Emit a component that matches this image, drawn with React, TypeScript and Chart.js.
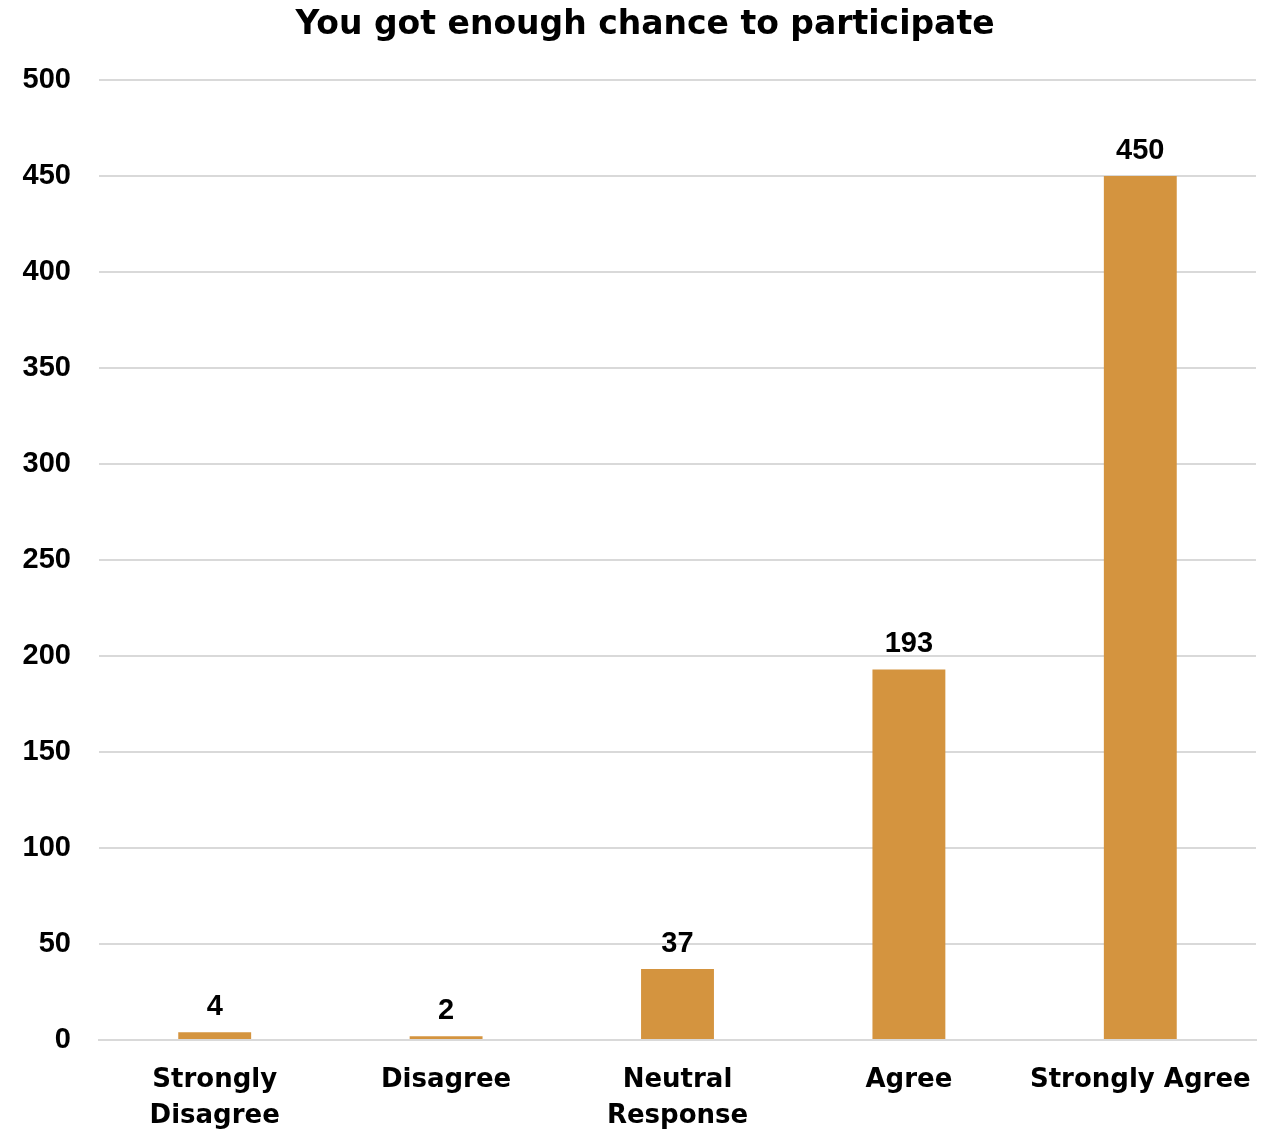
import React, { useEffect, useRef } from "react";
import { Chart, registerables } from "chart.js";

Chart.register(...registerables);

const TITLE = "You got enough chance to participate";
const categories: (string | string[])[] = [
  ["Strongly", "Disagree"],
  "Disagree",
  ["Neutral", "Response"],
  "Agree",
  "Strongly Agree",
];
const responses = [4, 2, 37, 193, 450];
const yMin = 0;
const yMax = 500;
const yStep = 50;

const BAR_COLOR = "#D4943F";
const GRID_COLOR = "#D9D9D9";
const NUM_FONT = "'Liberation Sans', Arial, sans-serif";
const TEXT_FONT = "'DejaVu Sans', sans-serif";

const titlePlugin = {
  id: "customTitle",
  afterDraw(chart: any) {
    const ctx = chart.ctx;
    ctx.save();
    ctx.font = `bold 33px ${TEXT_FONT}`;
    ctx.fillStyle = "#000";
    ctx.textAlign = "center";
    ctx.textBaseline = "middle";
    ctx.fillText(TITLE, 645, 25);
    ctx.restore();
  },
};

const labelPlugin = {
  id: "valueLabels",
  afterDatasetsDraw(chart: any) {
    const ctx = chart.ctx;
    const meta = chart.getDatasetMeta(0);
    ctx.save();
    ctx.font = `bold 29px ${NUM_FONT}`;
    ctx.fillStyle = "#000";
    ctx.textAlign = "center";
    ctx.textBaseline = "alphabetic";
    meta.data.forEach((bar: any, i: number) => {
      ctx.fillText(String(responses[i]), bar.x, bar.y - 17);
    });
    ctx.restore();
  },
};

export default function App() {
  const ref = useRef<HTMLCanvasElement>(null);
  useEffect(() => {
    document.body.style.margin = "0";
    const chart = new Chart(ref.current!, {
      type: "bar",
      data: {
        labels: categories,
        datasets: [
          {
            data: responses,
            backgroundColor: BAR_COLOR,
            categoryPercentage: 1,
            barPercentage: 0.315,
          },
        ],
      },
      options: {
        animation: false,
        responsive: false,
        maintainAspectRatio: false,
        layout: { padding: { top: 80, right: 12, left: 0, bottom: 0 } },
        plugins: { legend: { display: false }, tooltip: { enabled: false }, title: { display: false } },
        scales: {
          x: {
            grid: { display: false, drawTicks: false },
            border: { color: GRID_COLOR, width: 2 },
            ticks: {
              color: "#000",
              font: { family: TEXT_FONT, size: 26, weight: "bold", lineHeight: 1.38 },
              padding: 22,
              maxRotation: 0,
              autoSkip: false,
            },
            afterFit(scale: any) {
              scale.height = 94;
              scale.paddingLeft = 0;
              scale.paddingRight = 0;
            },
          },
          y: {
            min: yMin,
            max: yMax,
            grid: { color: GRID_COLOR, lineWidth: 2, drawTicks: false },
            border: { display: false },
            ticks: {
              stepSize: yStep,
              color: "#000",
              font: { family: NUM_FONT, size: 29, weight: "bold" },
              padding: 28,
            },
            afterFit(scale: any) {
              scale.width = 99;
              scale.paddingTop = 0;
              scale.paddingBottom = 0;
            },
          },
        },
      },
      plugins: [titlePlugin, labelPlugin],
    });
    return () => chart.destroy();
  }, []);
  return (
    <div style={{ width: 1268, height: 1134, background: "#fff" }}>
      <canvas ref={ref} width={1268} height={1134} />
    </div>
  );
}
